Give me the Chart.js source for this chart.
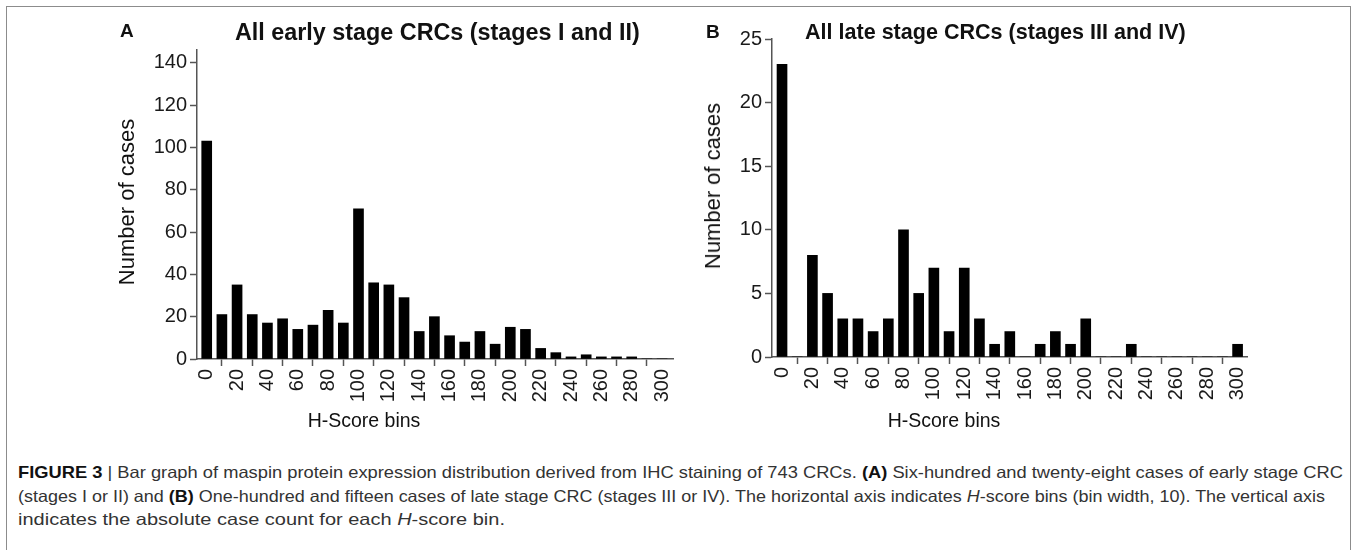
<!DOCTYPE html>
<html><head><meta charset="utf-8">
<script src="https://cdn.jsdelivr.net/npm/chart.js@4.4.1/dist/chart.umd.min.js"></script>
<style>
html,body{margin:0;padding:0;background:#fff;width:1357px;height:550px;overflow:hidden;font-family:"Liberation Sans",Arial,Helvetica,sans-serif;}
#frame{position:absolute;left:6px;top:6px;width:1345px;height:600px;border:1.5px solid #8c8c8c;box-sizing:border-box;}
canvas{position:absolute;top:0;}
.t{position:absolute;white-space:nowrap;color:#111;line-height:1;}
.c{transform:translateX(-50%);}
.rot{transform:translate(-50%,-50%) rotate(-90deg);}
.cap{position:absolute;left:18px;white-space:nowrap;color:#333;line-height:1;font-size:16.5px;transform-origin:0 50%;}
.cap b{color:#111;}
</style></head>
<body>
<div id="frame"></div>
<canvas id="cA" width="700" height="440" style="left:0;width:700px;height:440px"></canvas>
<canvas id="cB" width="657" height="440" style="left:700px;width:657px;height:440px"></canvas>

<div class="t" id="letA" style="left:120px;top:21px;font-size:19px;font-weight:bold">A</div>
<div class="t" id="letB" style="left:706px;top:22px;font-size:19px;font-weight:bold">B</div>
<div class="t" id="titA" style="left:235px;top:21px;font-size:23px;font-weight:bold">All early stage CRCs (stages I and II)</div>
<div class="t" id="titB" style="left:805px;top:21px;font-size:23px;font-weight:bold">All late stage CRCs (stages III and IV)</div>
<div class="t rot" style="left:127px;top:202px;font-size:22px">Number of cases</div>
<div class="t rot" style="left:713px;top:186px;font-size:22px">Number of cases</div>
<div class="t c" style="left:364px;top:411px;font-size:19.5px">H-Score bins</div>
<div class="t c" style="left:944px;top:411px;font-size:19.5px">H-Score bins</div>

<div class="cap" id="cap1" style="top:464px"><b>FIGURE 3</b> | Bar graph of maspin protein expression distribution derived from IHC staining of 743 CRCs. <b>(A)</b> Six-hundred and twenty-eight cases of early stage CRC</div>
<div class="cap" id="cap2" style="top:488px">(stages I or II) and <b>(B)</b> One-hundred and fifteen cases of late stage CRC (stages III or IV). The horizontal axis indicates <i>H</i>-score bins (bin width, 10). The vertical axis</div>
<div class="cap" id="cap3" style="top:511px">indicates the absolute case count for each <i>H</i>-score bin.</div>

<script>
// ---- data ----
const bins = [0,10,20,30,40,50,60,70,80,90,100,110,120,130,140,150,160,170,180,190,200,210,220,230,240,250,260,270,280,290,300];
const earlyCounts = [103,21,35,21,17,19,14,16,23,17,71,36,35,29,13,20,11,8,13,7,15,14,5,3,1,2,1,1,1,0,0];
const lateCounts  = [23,0,8,5,3,3,2,3,10,5,7,2,7,3,1,2,0,1,2,1,3,0,0,1,0,0,0,0,0,0,1];
const xTickValues = [0,20,40,60,80,100,120,140,160,180,200,220,240,260,280,300];
const xTickLabels = ["0","20","40","60","80","100","120","140","160","180","200","220","240","260","280","300"];
const yTicksEarly = [0,20,40,60,80,100,120,140];
const yLabelsEarly = ["0","20","40","60","80","100","120","140"];
const yTicksLate = [0,5,10,15,20,25];
const yLabelsLate = ["0","5","10","15","20","25"];

const FONT = '"Liberation Sans", Arial, Helvetica, sans-serif';
const AXIS = '#555555';

function makeChart(id, counts, cfg) {
  return new Chart(document.getElementById(id), {
    type: 'bar',
    data: { datasets: [{
      data: bins.map((b, i) => ({ x: b, y: counts[i] })),
      backgroundColor: '#000', borderWidth: 0, barThickness: 10
    }]},
    options: {
      responsive: false, animation: false, devicePixelRatio: 1,
      layout: { padding: { left: 0, top: cfg.top, right: cfg.right, bottom: 0 } },
      plugins: { legend: { display: false }, tooltip: { enabled: false }, title: { display: false } },
      scales: {
        x: {
          type: 'linear', min: cfg.xmin, max: cfg.xmax, bounds: 'data', offset: false,
          afterBuildTicks: s => { s.ticks = xTickValues.map(v => ({ value: v })); },
          afterFit: s => { s.height = cfg.xh; },
          grid: { display: true, drawOnChartArea: false, drawTicks: true, tickLength: 7, tickColor: AXIS, tickWidth: 1.5 },
          border: { display: true, color: AXIS, width: 1.5 },
          ticks: { minRotation: 90, maxRotation: 90, autoSkip: false, color: '#1a1a1a', padding: 3,
                   font: { family: FONT, size: 20 }, callback: (v, i) => xTickLabels[i] }
        },
        y: {
          type: 'linear', min: 0, max: cfg.ymax, bounds: 'data',
          afterBuildTicks: s => { s.ticks = cfg.yTicks.map(v => ({ value: v })); },
          afterFit: s => { s.width = cfg.yw; },
          grid: { display: true, drawOnChartArea: false, drawTicks: true, tickLength: 7, tickColor: AXIS, tickWidth: 1.5 },
          border: { display: true, color: AXIS, width: 1.5 },
          ticks: { color: '#1a1a1a', padding: 3, font: { family: FONT, size: 20 },
                   callback: (v, i) => cfg.yLabels[i] }
        }
      }
    }
  });
}

makeChart('cA', earlyCounts, { top: 50, right: 27, xh: 81, yw: 197, xmin: -6.4, xmax: 307.2, ymax: 146, yTicks: yTicksEarly, yLabels: yLabelsEarly });
makeChart('cB', lateCounts, { top: 39, right: 110, xh: 83, yw: 72, xmin: -6.6, xmax: 306.2, ymax: 25, yTicks: yTicksLate, yLabels: yLabelsLate });

// fit title widths by font size, caption lines by horizontal scale
function fit(id, width) {
  const el = document.getElementById(id);
  el.style.fontSize = '100px';
  const w = el.getBoundingClientRect().width;
  el.style.fontSize = (100 * width / w) + 'px';
}
function squeeze(id, width) {
  const el = document.getElementById(id);
  const w = el.getBoundingClientRect().width;
  el.style.transform = 'scaleX(' + (width / w) + ')';
}
fit('titA', 405); fit('titB', 381);
squeeze('cap1', 1325); squeeze('cap2', 1307); squeeze('cap3', 487);
</script>
</body></html>
